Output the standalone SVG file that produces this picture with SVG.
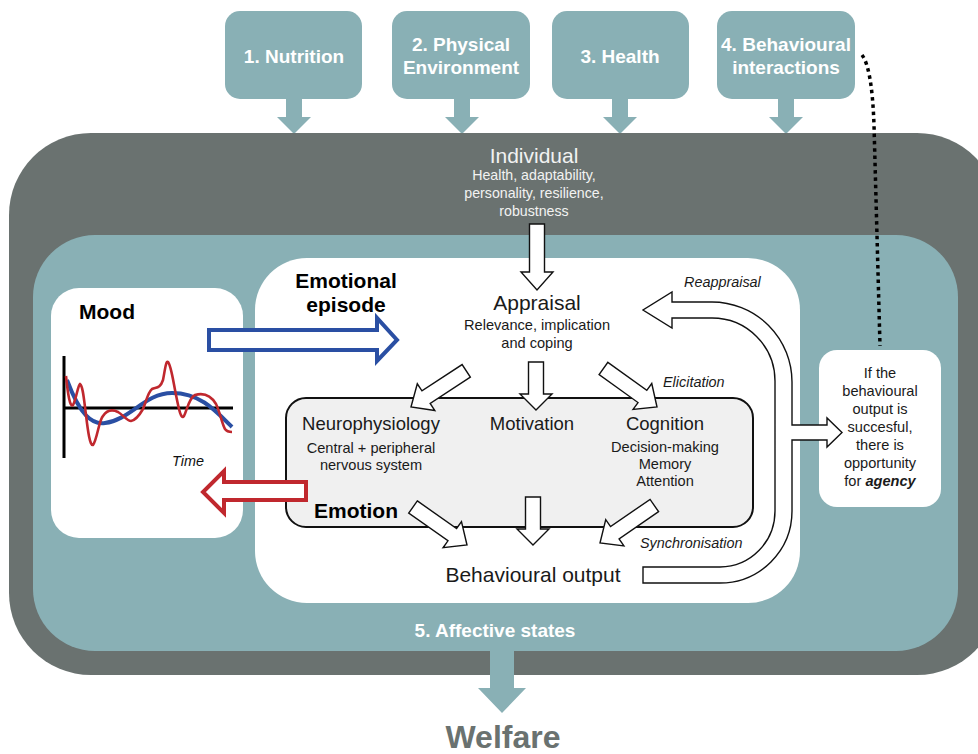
<svg xmlns="http://www.w3.org/2000/svg" width="978" height="754" viewBox="0 0 978 754">
  <style>
    .teal { fill: #89b0b5; }
    .dark { fill: #6a7270; }
    .hdr { font-family: "Liberation Sans", Arial, sans-serif; font-weight: bold; font-size: 19px; fill: #ffffff; text-anchor: middle; }
    .t { font-family: "Liberation Sans", Arial, sans-serif; fill: #1a1a1a; text-anchor: middle; }
    .big { font-size: 18.5px; }
    .lg { font-size: 21px; }
    .sm { font-size: 14.6px; }
    .it { font-style: italic; font-size: 14.4px; }
    .bold { font-family: "Liberation Sans", Arial, sans-serif; font-weight: bold; font-size: 21px; fill: #000; }
    .blk { fill: #ffffff; stroke: #111; stroke-width: 1.4; stroke-linejoin: miter; }
  </style>
  <defs>
    <!-- block arrow, tip at origin pointing +x; stem 16 wide, head 34 wide -->
    <polygon id="ba66" points="-66,-7.5 -18,-7.5 -18,-16 0,0 -18,16 -18,7.5 -66,7.5"/>
    <polygon id="ba48" points="-48,-7.5 -16,-7.5 -16,-16 0,0 -16,16 -16,7.5 -48,7.5"/>
  </defs>

  <!-- background -->
  <rect width="978" height="754" fill="#ffffff"/>

  <!-- welfare factor boxes -->
  <g id="nutrition">
    <rect class="teal" x="225" y="11" width="137" height="88" rx="15"/>
    <polygon class="teal" points="286,98 302,98 302,117 311,117 294,134 277,117 286,117"/>
    <text class="hdr" x="294" y="63">1. Nutrition</text>
  </g>
  <g id="physical-environment">
    <rect class="teal" x="392" y="11" width="138" height="88" rx="15"/>
    <polygon class="teal" points="454,98 470,98 470,117 479,117 462,134 445,117 454,117"/>
    <text class="hdr" x="461" y="51">2. Physical</text>
    <text class="hdr" x="461" y="74">Environment</text>
  </g>
  <g id="health">
    <rect class="teal" x="552" y="11" width="137" height="88" rx="15"/>
    <polygon class="teal" points="612,98 628,98 628,117 637,117 620,134 603,117 612,117"/>
    <text class="hdr" x="620" y="63">3. Health</text>
  </g>
  <g id="behavioural-interactions">
    <rect class="teal" x="717" y="11" width="138" height="88" rx="15"/>
    <polygon class="teal" points="778,98 794,98 794,117 803,117 786,134 769,117 778,117"/>
    <text class="hdr" x="786" y="51">4. Behavioural</text>
    <text class="hdr" x="786" y="74">interactions</text>
  </g>

  <!-- individual layer -->
  <g id="individual">
    <rect class="dark" x="9" y="133" width="990" height="542" rx="82"/>
    <text class="t lg" x="534" y="163" style="fill:#f2f2f2">Individual</text>
    <text class="t" x="534" y="180" style="font-size:14.2px;fill:#f2f2f2">Health, adaptability,</text>
    <text class="t" x="534" y="198" style="font-size:14.2px;fill:#f2f2f2">personality, resilience,</text>
    <text class="t" x="534" y="216" style="font-size:14.2px;fill:#f2f2f2">robustness</text>
  </g>

  <!-- affective states layer -->
  <g id="affective-states">
    <rect class="teal" x="33" y="235" width="925" height="416" rx="62"/>
    <text class="hdr" x="495" y="637">5. Affective states</text>
  </g>

  <!-- welfare outcome -->
  <g id="welfare">
    <polygon class="teal" points="490,650 514,650 514,688 526,688 502,713 478,688 490,688"/>
    <text class="t" x="503" y="748" style="font-size:32px;font-weight:bold;fill:#6a7270">Welfare</text>
  </g>

  <!-- mood panel -->
  <g id="mood">
    <rect x="51" y="288" width="192" height="250" rx="28" fill="#ffffff"/>
    <text class="bold" x="79" y="319">Mood</text>
    <path d="M64,356 V458 M64,408 H233" stroke="#000" stroke-width="3" fill="none"/>
    <path d="M67,380 C80,415 92,425 105,423 C130,420 145,393 172,393 C200,393 215,410 232,427" stroke="#2a4fa3" stroke-width="4" fill="none"/>
    <path d="M66,376 C68,395 70,408 73,405 C76,400 78,385 80,384 C83,386 84,400 86,415 C88,432 90,446 93,445 C97,440 99,420 103,416 C107,410 112,409 118,412 C123,415 127,421 131,421 C136,420 139,416 143,409 C146,402 148,392 152,389 C156,387 160,389 163,380 C165,370 166,360 168,362 C171,365 173,380 176,395 C179,410 181,420 184,416 C187,410 189,398 195,395 C202,393 210,394 216,404 C220,412 222,424 225,429 C227,432 230,432 232,432" stroke="#c0282e" stroke-width="2.6" fill="none"/>
    <text class="t it" x="188" y="466" style="fill:#111">Time</text>
  </g>

  <!-- emotional episode panel -->
  <g id="emotional-episode">
    <rect x="255" y="258" width="545" height="345" rx="52" fill="#ffffff"/>
    <text class="bold" x="346" y="288" text-anchor="middle">Emotional</text>
    <text class="bold" x="346" y="312" text-anchor="middle">episode</text>
    <text class="t lg" x="537" y="310">Appraisal</text>
    <text class="t sm" x="537" y="330">Relevance, implication</text>
    <text class="t sm" x="537" y="348">and coping</text>
    <text class="t it" x="684" y="287" style="text-anchor:start">Reappraisal</text>
    <text class="t it" x="663" y="387" style="text-anchor:start">Elicitation</text>
    <text class="t it" x="640" y="548" style="text-anchor:start">Synchronisation</text>
    <text class="t lg" x="533" y="582">Behavioural output</text>
  </g>

  <!-- emotion components -->
  <g id="emotion">
    <rect x="286" y="398" width="467" height="129" rx="20" fill="#f0f0f0" stroke="#111" stroke-width="2"/>
    <text class="t big" x="371" y="430">Neurophysiology</text>
    <text class="t sm" x="371" y="453">Central + peripheral</text>
    <text class="t sm" x="371" y="470">nervous system</text>
    <text class="t big" x="532" y="430">Motivation</text>
    <text class="t big" x="665" y="430">Cognition</text>
    <text class="t sm" x="665" y="452">Decision-making</text>
    <text class="t sm" x="665" y="469">Memory</text>
    <text class="t sm" x="665" y="486">Attention</text>
    <text class="bold" x="314" y="518">Emotion</text>
  </g>

  <!-- agency note -->
  <g id="agency">
    <rect x="819" y="350" width="122" height="157" rx="18" fill="#ffffff"/>
    <text class="t sm" x="880" y="378">If the</text>
    <text class="t sm" x="880" y="396">behavioural</text>
    <text class="t sm" x="880" y="414">output is</text>
    <text class="t sm" x="880" y="432">succesful,</text>
    <text class="t sm" x="880" y="450">there is</text>
    <text class="t sm" x="880" y="468">opportunity</text>
    <text class="t sm" x="880" y="486">for <tspan font-weight="bold" font-style="italic">agency</tspan></text>
  </g>

  <!-- connectors -->
  <g id="connectors">
    <!-- individual to appraisal -->
    <use href="#ba66" class="blk" transform="translate(537,290) rotate(90)"/>
    <!-- appraisal to components -->
    <use href="#ba66" class="blk" transform="translate(411,407) rotate(146.8)"/>
    <use href="#ba48" class="blk" transform="translate(536,410) rotate(90)"/>
    <use href="#ba66" class="blk" transform="translate(657,407) rotate(35.8)"/>
    <!-- components to behavioural output -->
    <use href="#ba66" class="blk" transform="translate(467,545) rotate(35.1)"/>
    <use href="#ba48" class="blk" transform="translate(533,545) rotate(90)"/>
    <use href="#ba66" class="blk" transform="translate(600,543) rotate(145.4)"/>
    <!-- reappraisal loop with branch to agency -->
    <path class="blk" d="M643,583 H720 A72,72 0 0 0 792,511 V440 H827 V447 L842,432.5 L827,418 V425 H792 V382 A80,80 0 0 0 712,302 H672 V292 L643,310 L672,328 V318 H712 A63,63 0 0 1 775,381 V511 A55,56 0 0 1 720,567 H643 Z"/>
    <!-- mood to emotional episode -->
    <polygon points="209,330 377,330 377,318 397,340 377,361 377,350 209,350" fill="#ffffff" stroke="#2a4fa3" stroke-width="4"/>
    <!-- emotion to mood -->
    <polygon points="306,482 224,482 224,471 203,492 224,513 224,500 306,500" fill="#ffffff" stroke="#c0282e" stroke-width="4"/>
    <!-- agency feedback to behavioural interactions -->
    <path d="M862,55 Q872,68 874,125 L880,346" fill="none" stroke="#000" stroke-width="3.5" stroke-dasharray="3.5 3.8"/>
  </g>
</svg>
